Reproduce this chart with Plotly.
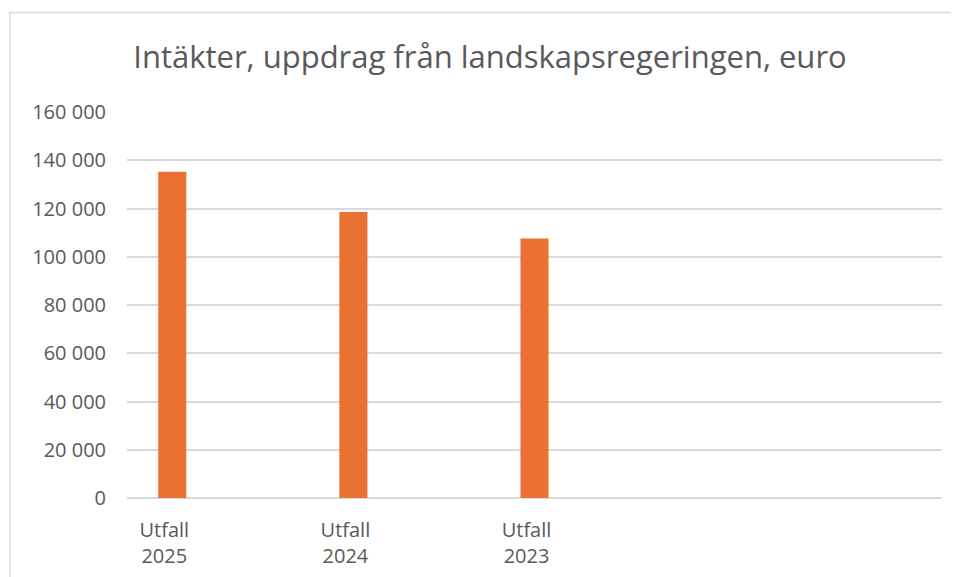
import plotly.graph_objects as go

categories = ['Utfall<br>2025', 'Utfall<br>2024', 'Utfall<br>2023']
values = [135200, 118600, 107600]
y_ticks = [0, 20000, 40000, 60000, 80000, 100000, 120000, 140000, 160000]

BAR_COLOR = '#E97132'
TEXT_COLOR = '#595959'
GRID_COLOR = '#D9D9D9'
FONT = 'Open Sans'

fig = go.Figure()
fig.add_trace(go.Bar(x=categories, y=values, marker_color=BAR_COLOR,
                     marker_line_width=0, width=0.155))

# the page adds an 8px body margin, so margins are shifted to compensate
fig.update_layout(
    width=959, height=577,
    margin=dict(l=119, r=25, t=104, b=87),
    paper_bgcolor='white', plot_bgcolor='white',
    separators=', ',
    showlegend=False,
    font=dict(family=FONT, color=TEXT_COLOR, size=20),
    title=dict(text='Intäkter, uppdrag från landskapsregeringen, euro',
               x=0.5026, xref='container', xanchor='center',
               y=0.915, yref='container', yanchor='middle',
               font=dict(family=FONT, size=31, color=TEXT_COLOR)),
)
fig.update_xaxes(range=[-0.25, 4.25], showgrid=False, showline=False, ticks='',
                 zeroline=False, ticklabelstandoff=18, ticklabelshift=-8,
                 tickfont=dict(size=20, color=TEXT_COLOR))
fig.update_yaxes(range=[0, 160000], tickvals=y_ticks, tickformat=',d',
                 showgrid=True, gridcolor=GRID_COLOR, gridwidth=1.5,
                 zeroline=True, zerolinecolor=GRID_COLOR, zerolinewidth=1.5,
                 showline=False, ticks='', ticklabelstandoff=20,
                 tickfont=dict(size=20, color=TEXT_COLOR))

# chart frame (left and top edges visible)
fig.add_shape(type='rect', xref='paper', yref='paper',
              x0=-0.1436, x1=1.2, y0=-0.4, y1=1.2578,
              line=dict(color=GRID_COLOR, width=1.5), layer='below')

fig.write_html('out.html')
